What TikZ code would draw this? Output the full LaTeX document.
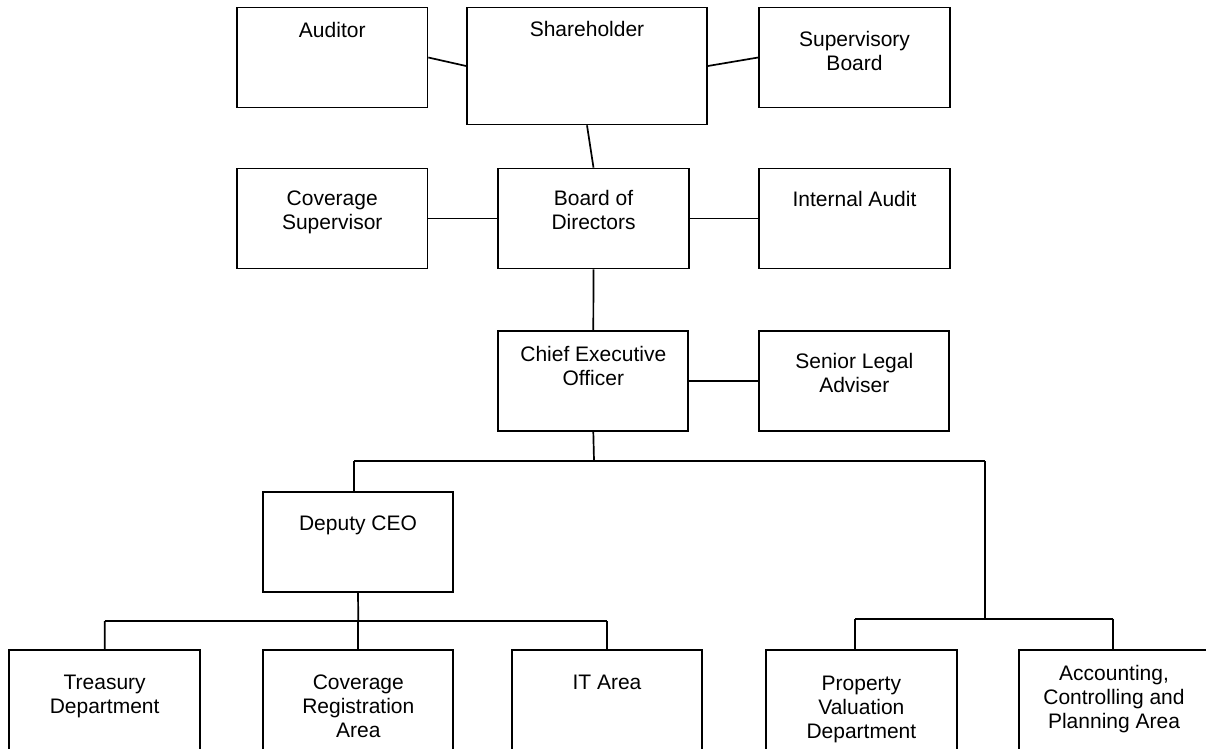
\documentclass[tikz,border=0pt]{standalone}
\usepackage{fontspec}
\setmainfont{Liberation Sans}
\newcommand\ml[1]{\begin{tabular}[t]{@{}c@{}}#1\end{tabular}}
\tikzset{
  orgbox/.style={draw=black, line width=1.7pt, rectangle, inner sep=0pt},
  lbl/.style={font=\fontsize{21}{24}\selectfont, inner sep=0pt, anchor=base, text=black},
  conn/.style={draw=black, line width=1.7pt}
}
\begin{document}
\begin{tikzpicture}[x=1pt, y=-1pt]
\useasboundingbox (0,0) rectangle (1206,748);
\fill[white] (0,0) rectangle (1206,748);
\clip (0,0) rectangle (1206,748);

% top row
\node[orgbox, minimum width=190.5pt, minimum height=100pt] (aud) at (332.25,57.5) {};
\node[orgbox, minimum width=240pt, minimum height=117pt] (sh) at (587,66) {};
\node[orgbox, minimum width=191pt, minimum height=100pt] (sup) at (854.5,57.5) {};
% second row
\node[orgbox, minimum width=190.5pt, minimum height=100pt] (cov) at (332.25,218.5) {};
\node[orgbox, minimum width=191pt, minimum height=100pt] (bod) at (593.5,218.5) {};
\node[orgbox, minimum width=191pt, minimum height=100pt] (ia) at (854.5,218.5) {};
% third row
\node[orgbox, minimum width=190pt, minimum height=100pt] (ceo) at (593.3,381) {};
\node[orgbox, minimum width=190pt, minimum height=100pt] (sla) at (854.3,381) {};
% deputy
\node[orgbox, minimum width=190.6pt, minimum height=100.3pt] (dep) at (358,541.85) {};
% bottom row (cut off by the picture's lower edge)
\node[orgbox, minimum width=190.7pt, minimum height=120pt] (tre) at (104.65,710) {};
\node[orgbox, minimum width=190pt, minimum height=120pt] (cra) at (358.3,710) {};
\node[orgbox, minimum width=190.6pt, minimum height=120pt] (ita) at (607,710) {};
\node[orgbox, minimum width=190.7pt, minimum height=120pt] (pvd) at (861.35,710) {};
\node[orgbox, minimum width=190.6pt, minimum height=120pt] (acc) at (1114,710) {};

% labels
\node[lbl] (taud) at (332.25,37.3) {Auditor};
\node[lbl] (tsh) at (587,36.7) {Shareholder};
\node[lbl] (tsup) at (854.5,46.7) {\ml{Supervisory\\Board}};
\node[lbl] (tcov) at (332.25,205) {\ml{Coverage\\Supervisor}};
\node[lbl] (tbod) at (593.5,205) {\ml{Board of\\Directors}};
\node[lbl] (tia) at (854.5,206.7) {Internal Audit};
\node[lbl] (tceo) at (593.3,361.7) {\ml{Chief Executive\\Officer}};
\node[lbl] (tsla) at (854.3,368) {\ml{Senior Legal\\Adviser}};
\node[lbl] (tdep) at (358,530.5) {Deputy CEO};
\node[lbl] (ttre) at (104.65,689.3) {\ml{Treasury\\Department}};
\node[lbl] (tcra) at (358.3,689) {\ml{Coverage\\Registration\\Area}};
\node[lbl] (tita) at (607,689) {IT Area};
\node[lbl] (tpvd) at (861.35,690) {\ml{Property\\Valuation\\Department}};
\node[lbl] (tacc) at (1114,680.7) {\ml{Accounting,\\Controlling and\\Planning Area}};

% connectors, upper part
\draw[conn] (aud.east) -- (sh.west);
\draw[conn] (sh.east) -- (sup.west);
\draw[conn] (sh.south) -- (bod.north);
\draw[conn] (cov.east) -- (bod.west);
\draw[conn] (bod.east) -- (ia.west);
\draw[conn] (bod.south) -- (ceo.north);
\draw[conn] (ceo.east) -- (sla.west);

% CEO bus
\coordinate (cj) at (594,461);
\coordinate (bL) at (354,461);
\coordinate (bR) at (985,461);
\draw[conn] (ceo.south) -- (cj);
\draw[conn] (bL) -- (bR);
\draw[conn] (bL) -- (bL |- dep.north);

% right bus
\coordinate (rj) at (985,618.7);
\coordinate (rL) at (855.3,618.7);
\coordinate (rR) at (1112.7,618.7);
\draw[conn] (bR) -- (rj);
\draw[conn] (rL) -- (rR);
\draw[conn] (rL) -- (rL |- pvd.north);
\draw[conn] (rR) -- (rR |- acc.north);

% deputy bus
\coordinate (dj) at (358.3,621);
\coordinate (dL) at (104.7,621);
\coordinate (dR) at (607.3,621);
\draw[conn] (dep.south) -- (dj);
\draw[conn] (dL) -- (dR);
\draw[conn] (dL) -- (tre.north);
\draw[conn] (dj) -- (cra.north);
\draw[conn] (dR) -- (dR |- ita.north);
\end{tikzpicture}
\end{document}
